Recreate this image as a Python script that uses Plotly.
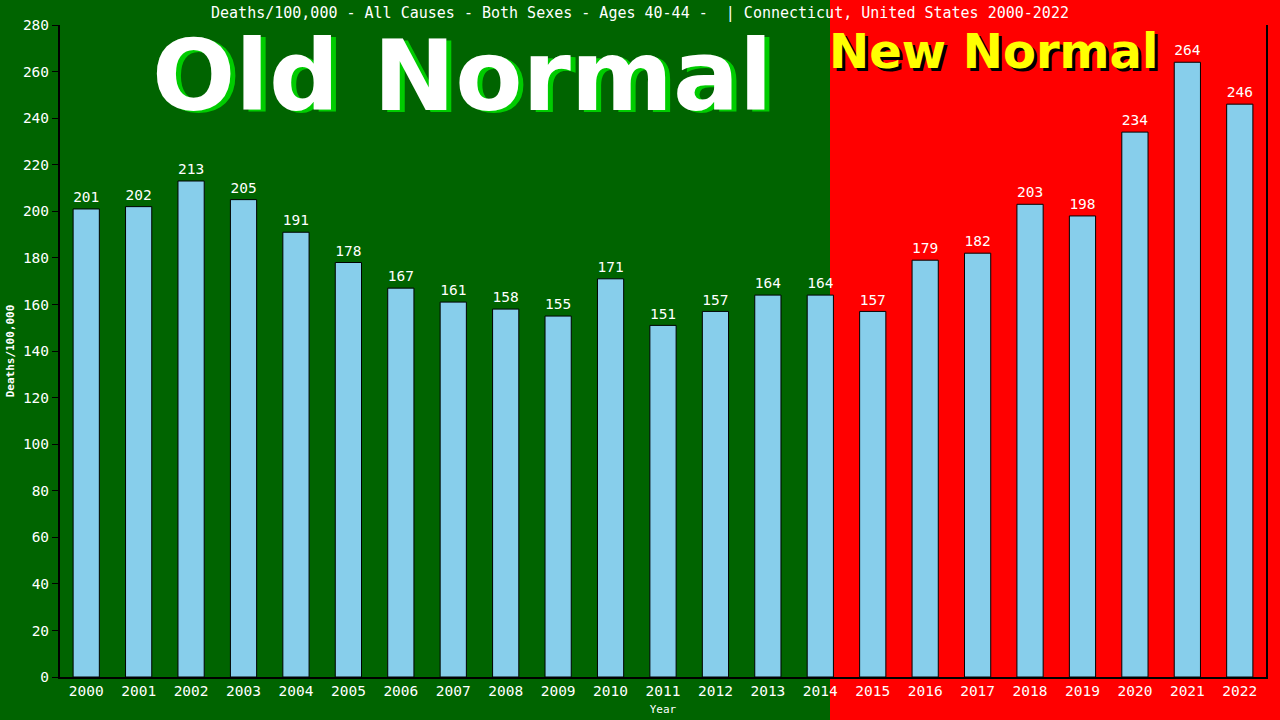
import plotly.graph_objects as go

years = [str(y) for y in range(2000, 2023)]
values = [201, 202, 213, 205, 191, 178, 167, 161, 158, 155, 171, 151, 157, 164, 164,
          157, 179, 182, 203, 198, 234, 264, 246]
yticks = list(range(0, 281, 20))

W, H = 1280, 720
L, R, T, B = 60, 14, 25, 43
pw, ph = W - L - R, H - T - B

def px_x(x):
    return (x - L) / pw

def px_y(y):
    return (H - B - y) / ph

mono = "DejaVu Sans Mono"

fig = go.Figure()
fig.add_trace(go.Bar(
    x=years, y=values, width=0.5,
    marker=dict(color="#87CEEB", line=dict(color="black", width=1)),
    text=[str(v) for v in values], textposition="outside",
    textfont=dict(family=mono, size=15, color="white"),
    cliponaxis=False,
))

fig.update_layout(
    width=W, height=H,
    margin=dict(l=L, r=R, t=T, b=B, autoexpand=False),
    paper_bgcolor="#006400", plot_bgcolor="rgba(0,0,0,0)",
    showlegend=False, bargap=0.5,
    title=dict(text="Deaths/100,000 - All Causes - Both Sexes - Ages 40-44 -  | Connecticut, United States 2000-2022",
               x=0.5, xanchor="center", y=1 - 13 / H, yanchor="middle",
               font=dict(family=mono, size=15, color="white")),
    xaxis=dict(range=[-0.5, 22.5], showline=True, linecolor="black", linewidth=2,
               ticks="", tickfont=dict(family=mono, size=14.5, color="white"), automargin=False,
               title=dict(text="Year", font=dict(family=mono, size=11, color="white"), standoff=7),
               showgrid=False),
    yaxis=dict(range=[0, 280], tickvals=yticks, showline=True, linecolor="black", linewidth=2,
               mirror=True, ticks="outside", ticklen=6, tickcolor="black", automargin=False,
               tickfont=dict(family=mono, size=14.5, color="white"),
               title=dict(text="<b>Deaths/100,000</b>", font=dict(family=mono, size=11, color="white"), standoff=6),
               showgrid=False, zeroline=False),
)

fig.add_shape(type="rect", xref="paper", yref="paper",
              x0=px_x(830), x1=px_x(W + 5), y0=px_y(H + 5), y1=px_y(-5),
              fillcolor="#FF0000", line=dict(width=0), layer="below")

# Old Normal with green shadow
for dx, dy, col in [(5, 2, "#00CC00"), (0, 0, "white")]:
    fig.add_annotation(text="<b>Old Normal</b>", xref="paper", yref="paper",
                       x=px_x(462 + dx), y=px_y(76 + dy), xanchor="center", yanchor="middle",
                       showarrow=False, font=dict(family="DejaVu Sans", size=98, color=col))
for dx, dy, col in [(3, 3, "black"), (0, 0, "yellow")]:
    fig.add_annotation(text="<b>New Normal</b>", xref="paper", yref="paper",
                       x=px_x(993 + dx), y=px_y(51 + dy), xanchor="center", yanchor="middle",
                       showarrow=False, font=dict(family="DejaVu Sans", size=48, color=col))

fig.write_html("out.html", config={"displayModeBar": False},
               post_script="document.body.style.margin='0';document.body.style.padding='0';")
